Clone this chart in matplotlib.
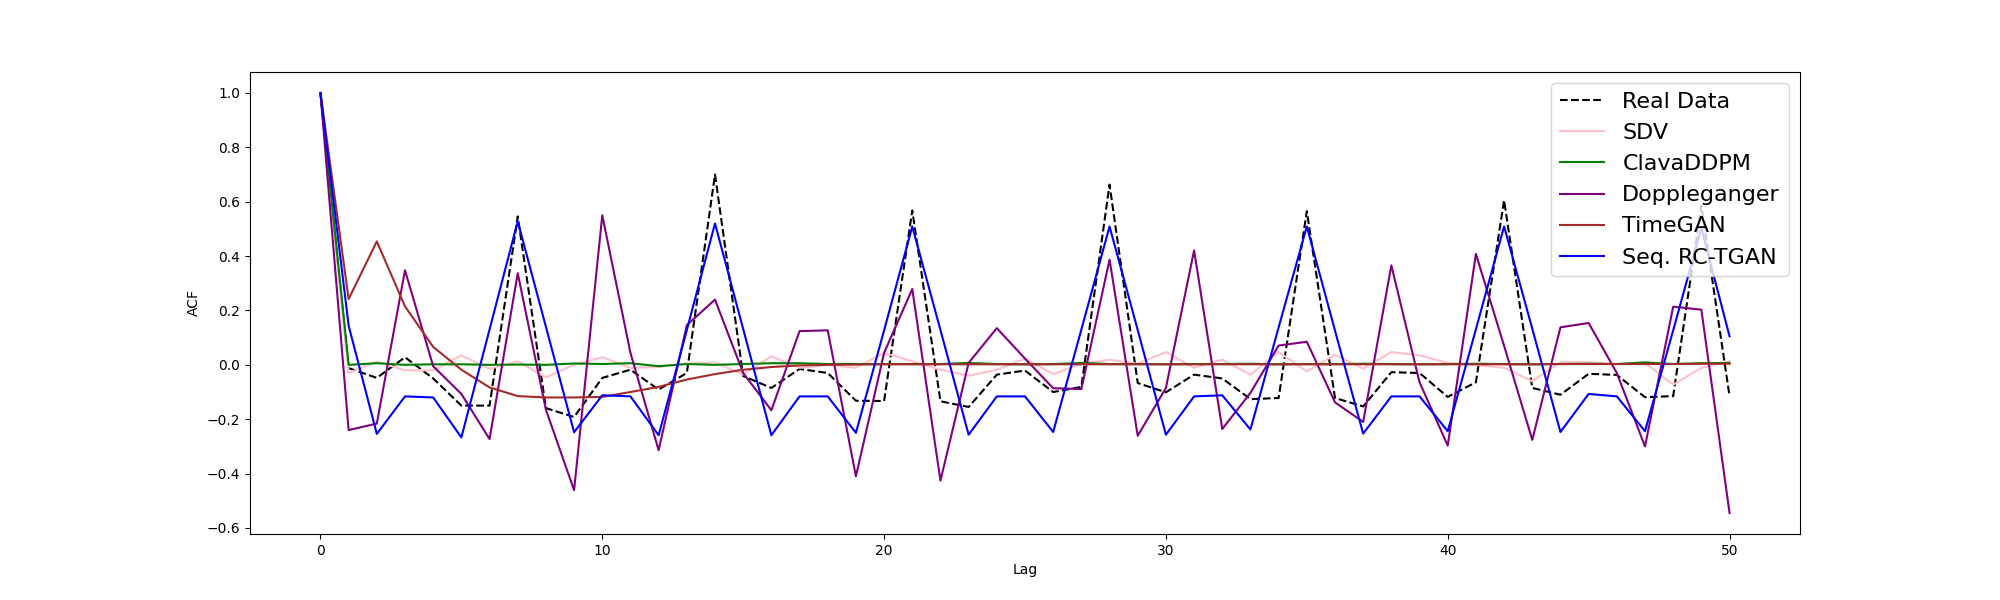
import matplotlib.pyplot as plt
import numpy as np

lags = np.arange(51)

real_data = [1.0, -0.012, -0.048, 0.028, -0.05, -0.15, -0.15, 0.546, -0.159, -0.192,
             -0.048, -0.018, -0.091, -0.03, 0.70, -0.041, -0.085, -0.015, -0.03, -0.132,
             -0.133, 0.568, -0.134, -0.155, -0.036, -0.021, -0.10, -0.081, 0.663, -0.067,
             -0.101, -0.036, -0.05, -0.126, -0.122, 0.565, -0.122, -0.153, -0.027, -0.03,
             -0.118, -0.064, 0.605, -0.085, -0.11, -0.033, -0.037, -0.119, -0.115, 0.585,
             -0.115]
sdv = [1.0, -0.03, 0.012, -0.02, -0.02, 0.035, -0.015, 0.013, -0.046, 0.0,
       0.028, -0.011, -0.008, 0.005, 0.009, -0.036, 0.031, -0.011, 0.0, -0.011,
       0.044, 0.013, -0.018, -0.04, -0.018, 0.023, -0.034, 0.004, 0.019, 0.004,
       0.047, -0.011, 0.019, -0.036, 0.047, -0.024, 0.037, -0.014, 0.047, 0.035,
       0.007, 0.0, -0.011, -0.06, 0.01, 0.01, 0.003, 0.007, -0.073, -0.011,
       0.013]
clava_ddpm = [1.0, 0.0, 0.006, 0.0, 0.002, 0.002, 0.0, 0.001, 0.0, 0.005,
              0.003, 0.006, -0.005, 0.003, 0.0, 0.003, 0.006, 0.006, 0.003, 0.003,
              0.003, 0.003, 0.003, 0.007, 0.003, 0.002, 0.003, 0.007, 0.003, 0.003,
              0.002, 0.003, 0.003, 0.004, 0.002, 0.003, 0.003, 0.004, 0.003, 0.002,
              0.003, 0.004, 0.003, 0.002, 0.003, 0.004, 0.003, 0.009, 0.003, 0.006,
              0.007]
doppleganger = [1.0, -0.24, -0.216, 0.348, -0.005, -0.107, -0.273, 0.337, -0.165, -0.461,
                0.55, 0.044, -0.314, 0.146, 0.24, -0.03, -0.167, 0.124, 0.127, -0.41,
                0.044, 0.279, -0.426, 0.007, 0.135, 0.023, -0.086, -0.089, 0.387, -0.261,
                -0.085, 0.421, -0.236, -0.103, 0.071, 0.085, -0.138, -0.21, 0.366, -0.064,
                -0.297, 0.408, 0.07, -0.276, 0.138, 0.154, -0.03, -0.30, 0.214, 0.203,
                -0.545]
timegan = [1.0, 0.242, 0.454, 0.215, 0.066, -0.018, -0.083, -0.115, -0.12, -0.12,
           -0.118, -0.10, -0.081, -0.054, -0.034, -0.018, -0.008, -0.002, 0.0, 0.001,
           0.002, 0.002, 0.002, 0.002, 0.002, 0.002, 0.002, 0.002, 0.002, 0.002,
           0.002, 0.002, 0.002, 0.002, 0.002, 0.002, 0.002, 0.002, 0.002, 0.002,
           0.002, 0.002, 0.002, 0.002, 0.003, 0.003, 0.003, 0.003, 0.003, 0.004,
           0.004]
seq_rc_tgan = [1.0, 0.144, -0.254, -0.116, -0.12, -0.267, 0.13, 0.528, 0.14, -0.248,
               -0.112, -0.116, -0.259, 0.128, 0.52, 0.132, -0.259, -0.116, -0.116, -0.25,
               0.127, 0.509, 0.128, -0.257, -0.116, -0.116, -0.247, 0.13, 0.509, 0.128,
               -0.257, -0.116, -0.112, -0.238, 0.138, 0.509, 0.126, -0.253, -0.116, -0.116,
               -0.244, 0.131, 0.509, 0.133, -0.247, -0.107, -0.116, -0.244, 0.127, 0.503,
               0.105]

fig, ax = plt.subplots(figsize=(20, 6))
ax.plot(lags, real_data, '--', color='black', label='Real Data')
ax.plot(lags, sdv, color='pink', label='SDV')
ax.plot(lags, clava_ddpm, color='green', label='ClavaDDPM')
ax.plot(lags, doppleganger, color='purple', label='Doppleganger')
ax.plot(lags, timegan, color='brown', label='TimeGAN')
ax.plot(lags, seq_rc_tgan, color='blue', label='Seq. RC-TGAN')

ax.set_xlabel('Lag')
ax.set_ylabel('ACF')
ax.legend(loc='upper right', fontsize=16)

plt.savefig('out.png', dpi=100)
